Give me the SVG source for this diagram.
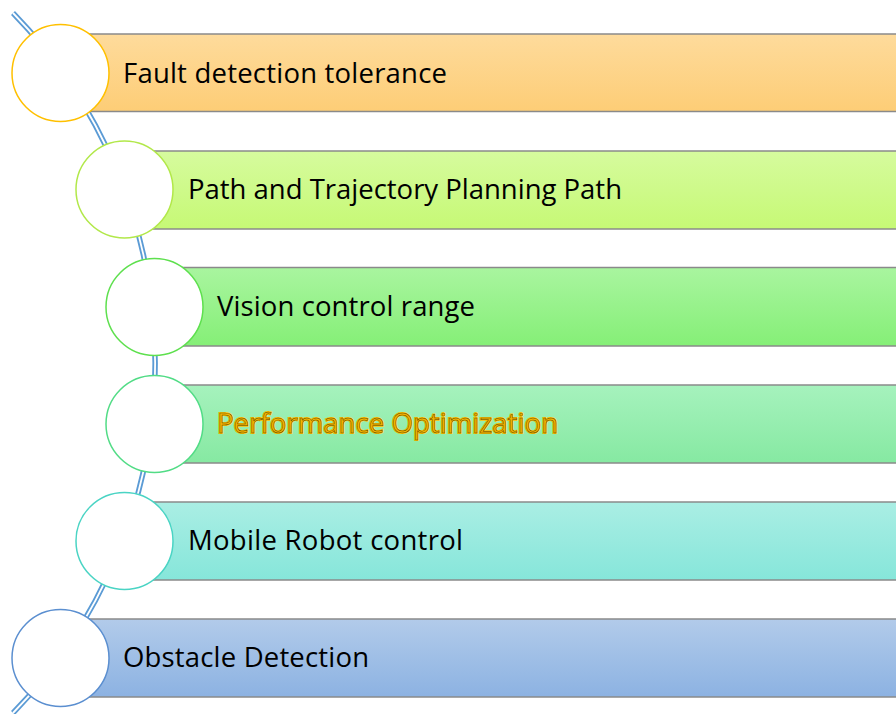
<svg xmlns="http://www.w3.org/2000/svg" width="896" height="714" viewBox="0 0 896 714">
<defs>
<linearGradient id="g1" x1="0" y1="0" x2="0" y2="1"><stop offset="0" stop-color="#fedb9c"/><stop offset="1" stop-color="#fdcd76"/></linearGradient>
<linearGradient id="g2" x1="0" y1="0" x2="0" y2="1"><stop offset="0" stop-color="#d6fb9e"/><stop offset="1" stop-color="#c6f975"/></linearGradient>
<linearGradient id="g3" x1="0" y1="0" x2="0" y2="1"><stop offset="0" stop-color="#a9f59f"/><stop offset="1" stop-color="#85ef77"/></linearGradient>
<linearGradient id="g4" x1="0" y1="0" x2="0" y2="1"><stop offset="0" stop-color="#a6f2bd"/><stop offset="1" stop-color="#86e9a2"/></linearGradient>
<linearGradient id="g5" x1="0" y1="0" x2="0" y2="1"><stop offset="0" stop-color="#aaeee4"/><stop offset="1" stop-color="#86e6da"/></linearGradient>
<linearGradient id="g6" x1="0" y1="0" x2="0" y2="1"><stop offset="0" stop-color="#b2cbea"/><stop offset="1" stop-color="#8cb2e2"/></linearGradient>
</defs>
<style>
.bar{stroke:#8a8a8a;stroke-width:1.5}
.node circle{fill:#ffffff;stroke-width:1.5}
.lbl{font-family:"Open Sans","Liberation Sans",sans-serif;font-size:27.5px;fill:#000000}
.hl{fill:#f5b400;stroke:#ffc000;stroke-width:2;paint-order:stroke}
.hl2{fill:none;stroke:#5a4500;stroke-width:0.5}
</style>
<g id="connectors">
<path d="M13 13 A502 502 0 0 1 13 713" fill="none" stroke="#5b9bd5" stroke-width="5.5"/>
<path d="M13 13 A502 502 0 0 1 13 713" fill="none" stroke="#ffffff" stroke-width="1.8"/>
</g>
<g id="node1" class="node">
<rect class="bar" x="60" y="34" width="850" height="77.5" fill="url(#g1)"/>
<circle cx="60.5" cy="73" r="48.5" stroke="#ffc000"/>
<text class="lbl" x="123" y="82.5" textLength="324">Fault detection tolerance</text>
</g>
<g id="node2" class="node">
<rect class="bar" x="124" y="151" width="790" height="78" fill="url(#g2)"/>
<circle cx="124.5" cy="189.5" r="48.5" stroke="#b2e84a"/>
<text class="lbl" x="188" y="199" textLength="434">Path and Trajectory Planning Path</text>
</g>
<g id="node3" class="node">
<rect class="bar" x="154" y="267.5" width="760" height="78.5" fill="url(#g3)"/>
<circle cx="154.5" cy="307" r="48.5" stroke="#5ee04e"/>
<text class="lbl" x="217" y="316" textLength="258">Vision control range</text>
</g>
<g id="node4" class="node">
<rect class="bar" x="154" y="385" width="760" height="78" fill="url(#g4)"/>
<circle cx="154.5" cy="424" r="48.5" stroke="#52dc86"/>
<text class="lbl hl" x="217" y="433" textLength="341">Performance Optimization</text>
<text class="lbl hl2" x="217" y="433" textLength="341">Performance Optimization</text>
</g>
<g id="node5" class="node">
<rect class="bar" x="124" y="502" width="790" height="78" fill="url(#g5)"/>
<circle cx="124.5" cy="541" r="48.5" stroke="#4ad4c4"/>
<text class="lbl" x="188" y="550" textLength="275">Mobile Robot control</text>
</g>
<g id="node6" class="node">
<rect class="bar" x="60" y="619" width="850" height="78" fill="url(#g6)"/>
<circle cx="60.5" cy="658" r="48.5" stroke="#5b8fd0"/>
<text class="lbl" x="123" y="667" textLength="246">Obstacle Detection</text>
</g>
</svg>
